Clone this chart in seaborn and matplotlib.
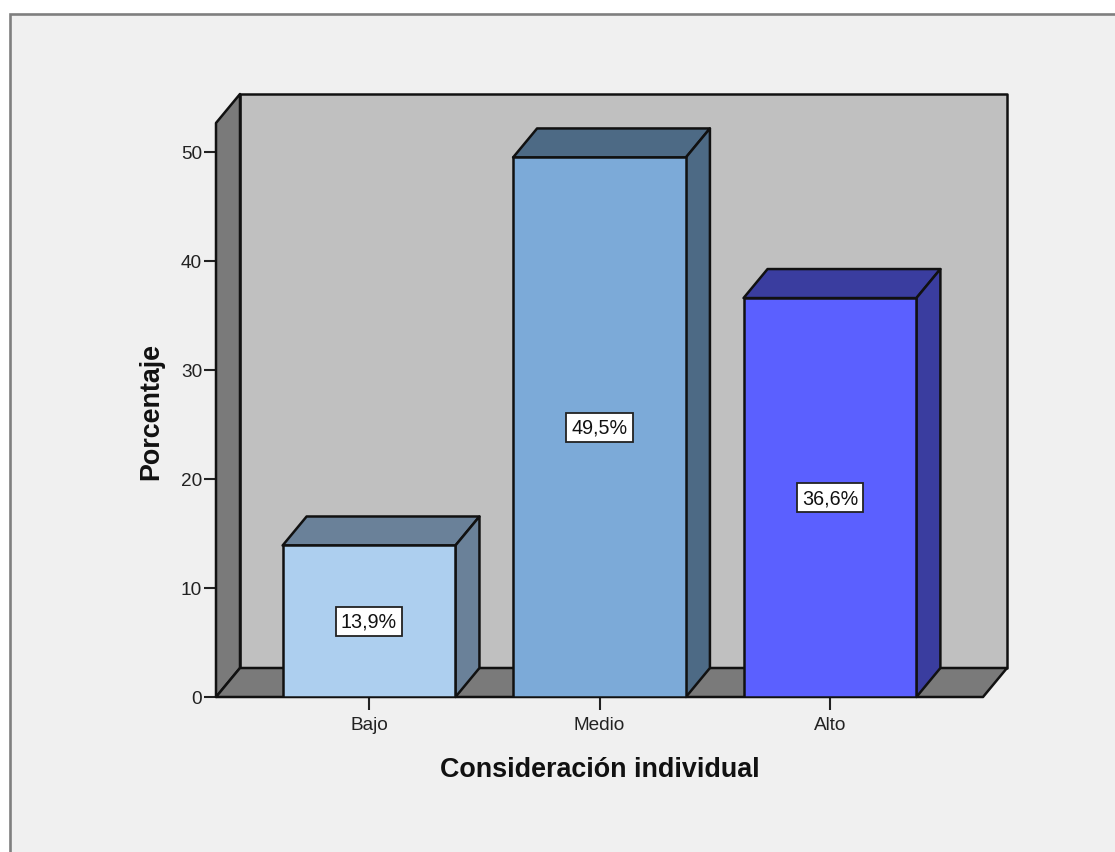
import matplotlib
matplotlib.use("Agg")
import matplotlib.pyplot as plt
from matplotlib.patches import Polygon, Rectangle
import pandas as pd
import seaborn as sns

categories = ["Bajo", "Medio", "Alto"]
values = [13.9, 49.5, 36.6]
labels = ["13,9%", "49,5%", "36,6%"]
yticks = [0, 10, 20, 30, 40, 50]
front_colors = ["#ADCFEF", "#7CAAD8", "#5B60FF"]
side_colors = ["#6A8199", "#4D6A85", "#3A3D9F"]

W, H = 1115, 853
sns.set_theme(style="white")
plt.rcParams["font.family"] = ["Liberation Sans", "DejaVu Sans"]

fig = plt.figure(figsize=(W / 100, H / 100), dpi=100, facecolor="white")

# grey panel, its right and bottom edges run off the image
fig.add_artist(Rectangle((9.5 / W, -0.01), 1.01, 1 - 15 / H + 0.01, transform=fig.transFigure,
                         facecolor="#F0F0F0", edgecolor="#7F7F7F", linewidth=1.9, zorder=-1))

ax = fig.add_axes([216 / W, (H - 698) / H, 767 / W, 574 / H])
df = pd.DataFrame({"cat": categories, "val": values})
sns.barplot(data=df, x="cat", y="val", hue="cat", palette=front_colors, legend=False,
            width=0.75, saturation=1, edgecolor="#111111", linewidth=1.8, ax=ax)

ax.set_xlim(-0.664, 2.664)
ax.set_ylim(0, 52.66)
ax.patch.set_visible(False)
sns.despine(ax=ax, left=True, bottom=True, top=True, right=True)

# depth of the fake 3d box, in data units (24 px right, 29 px up)
dx = 24 / 230.5
dy = 29 / 10.9
x0, x1 = ax.get_xlim()
y0, y1 = ax.get_ylim()
line = dict(edgecolor="#111111", linewidth=1.8, joinstyle="round", clip_on=False)

ax.add_patch(Polygon([(x0 + dx, y0 + dy), (x1 + dx, y0 + dy), (x1 + dx, y1 + dy), (x0 + dx, y1 + dy)],
                     facecolor="#C0C0C0", zorder=0.5, **line))
ax.add_patch(Polygon([(x0, y0), (x0 + dx, y0 + dy), (x0 + dx, y1 + dy), (x0, y1)],
                     facecolor="#7A7A7A", zorder=0.6, **line))
ax.add_patch(Polygon([(x0, y0), (x1, y0), (x1 + dx, y0 + dy), (x0 + dx, y0 + dy)],
                     facecolor="#7A7A7A", zorder=0.6, **line))

for bar, side, label in zip(list(ax.patches)[:3], side_colors, labels):
    left, right = bar.get_x(), bar.get_x() + bar.get_width()
    top = bar.get_height()
    bar.set_zorder(3)
    ax.add_patch(Polygon([(left, top), (right, top), (right + dx, top + dy), (left + dx, top + dy)],
                         facecolor=side, zorder=2, **line))
    ax.add_patch(Polygon([(right, 0), (right + dx, dy), (right + dx, top + dy), (right, top)],
                         facecolor=side, zorder=2, **line))
    ax.text((left + right) / 2, top / 2, label, ha="center", va="center", fontsize=14.2,
            color="#111111", zorder=4,
            bbox=dict(boxstyle="square,pad=0.26", facecolor="white", edgecolor="#222222", linewidth=1.3))

ax.set_yticks(yticks)
ax.tick_params(axis="y", left=True, length=9, width=1.5, color="#222222", pad=1, labelsize=13.7, labelcolor="#222222")
ax.tick_params(axis="x", bottom=True, length=9, width=1.5, color="#222222", pad=5, labelsize=13.7, labelcolor="#222222")
ax.set_xlabel("Consideración individual", fontsize=19.4, fontweight="bold", color="#111111", labelpad=16)
ax.set_ylabel("Porcentaje", fontsize=19.4, fontweight="bold", color="#111111", labelpad=12)

fig.savefig("out.png", dpi=100, facecolor=fig.get_facecolor())
